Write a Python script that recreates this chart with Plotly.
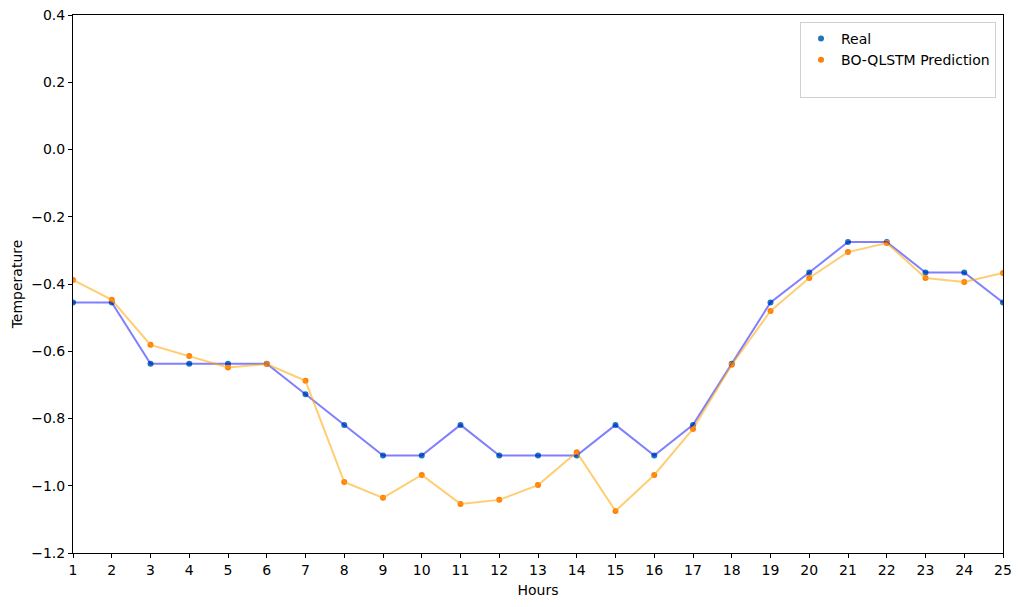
import plotly.graph_objects as go

hours = list(range(1, 26))
real = [-0.455, -0.455, -0.637, -0.637, -0.637, -0.637, -0.728, -0.819, -0.910, -0.910,
        -0.819, -0.910, -0.910, -0.910, -0.819, -0.910, -0.819, -0.637, -0.455, -0.366,
        -0.275, -0.275, -0.366, -0.366, -0.455]
pred = [-0.388, -0.447, -0.581, -0.614, -0.648, -0.638, -0.688, -0.989, -1.036, -0.968,
        -1.054, -1.042, -0.998, -0.900, -1.075, -0.968, -0.831, -0.640, -0.480, -0.382,
        -0.305, -0.278, -0.382, -0.394, -0.367]

y_ticks = [-1.2, -1.0, -0.8, -0.6, -0.4, -0.2, 0.0, 0.2, 0.4]

fig = go.Figure()
# scatter points first, lines drawn over them (as in the original)
fig.add_trace(go.Scatter(x=hours, y=real, mode="markers", name="Real",
                         marker=dict(color="#1f77b4", size=6)))
fig.add_trace(go.Scatter(x=hours, y=pred, mode="markers", name="BO-QLSTM Prediction",
                         marker=dict(color="#ff7f0e", size=6)))
# empty third legend entry
fig.add_trace(go.Scatter(x=[None], y=[None], mode="markers", name=" ",
                         marker=dict(color="rgba(0,0,0,0)", size=6)))
fig.add_trace(go.Scatter(x=hours, y=real, mode="lines", showlegend=False,
                         line=dict(color="rgba(0,0,255,0.5)", width=2)))
fig.add_trace(go.Scatter(x=hours, y=pred, mode="lines", showlegend=False,
                         line=dict(color="rgba(255,165,0,0.55)", width=2)))

axis_common = dict(showline=True, linecolor="black", linewidth=1, mirror=True,
                   ticks="outside", ticklen=4, tickcolor="black", showgrid=False,
                   zeroline=False, automargin=False,
                   tickfont=dict(size=14, color="black"))

fig.update_xaxes(range=[1, 25], tickmode="array", tickvals=hours,
                 title=dict(text="Hours", font=dict(size=14), standoff=8), **axis_common)
fig.update_yaxes(range=[-1.2, 0.4], tickmode="array", tickvals=y_ticks,
                 ticktext=[f"{v:.1f}".replace("-", "\u2212") for v in y_ticks],
                 title=dict(text="Temperature", font=dict(size=14), standoff=5), **axis_common)

fig.update_layout(
    width=1021, height=607,
    margin=dict(l=73, r=18, t=15, b=54),
    plot_bgcolor="white", paper_bgcolor="white",
    font=dict(family="DejaVu Sans", size=14, color="black"),
    legend=dict(x=0.9925, y=0.987, xanchor="right", yanchor="top",
                bgcolor="white", bordercolor="#d0d0d0", borderwidth=1,
                font=dict(size=14), tracegroupgap=0, itemwidth=30),
)

fig.write_html("out.html", config={"displayModeBar": False},
               post_script="document.body.style.margin='0';")
